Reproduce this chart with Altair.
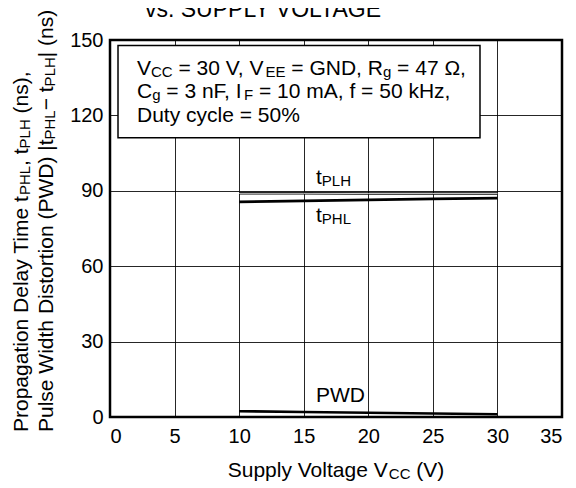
import altair as alt
import pandas as pd

# ---------------- data ----------------
vcc = [10, 15, 20, 25, 30]
t_plh = [89.0, 89.0, 88.9, 88.9, 88.9]
t_phl = [85.6, 86.0, 86.4, 86.8, 87.1]
pwd = [2.3, 2.0, 1.7, 1.4, 1.1]

x_ticks = [0, 5, 10, 15, 20, 25, 30, 35]
y_ticks = [0, 30, 60, 90, 120, 150]

FONT = "Liberation Sans"
W, H = 452, 377
BIG, SUB = 21, 15

# Arial / Liberation Sans advance widths (1/1000 em)
AW = {" ": 278, "(": 333, ")": 333, ",": 278, ".": 278, "=": 584, "%": 889, "|": 260,
      "\u2212": 584, "\u03a9": 768, "0": 556, "1": 556, "2": 556, "3": 556, "4": 556,
      "5": 556, "6": 556, "7": 556, "8": 556, "9": 556,
      "A": 667, "C": 722, "D": 722, "E": 667, "F": 611, "G": 778, "H": 722, "I": 278,
      "L": 556, "N": 722, "O": 778, "P": 667, "R": 722, "S": 667, "T": 611, "U": 722,
      "V": 667, "W": 944, "Y": 667,
      "a": 556, "c": 500, "d": 556, "e": 556, "f": 278, "g": 556, "h": 556, "i": 222,
      "k": 500, "l": 222, "m": 833, "n": 556, "o": 556, "p": 556, "r": 333, "s": 500,
      "t": 278, "u": 556, "v": 500, "y": 500, "z": 500}


def tw(s, size):
    return sum(AW.get(c, 556) for c in s) * size / 1000.0


one = pd.DataFrame({"a": [0]})


def piece(text, size, angle, **kw):
    return alt.Chart(one).mark_text(
        text=text, font=FONT, fontSize=size, align="left",
        baseline="alphabetic", angle=angle, color="black", **kw)


def split_lead(text, size):
    stripped = text.lstrip(" ")
    return stripped, tw(text[: len(text) - len(stripped)], size)


def rich_px(segs, x0, y0, angle=0, big=BIG, sub=SUB, shift=2):
    """Text with subscripts, placed in pixel coordinates."""
    out = []
    pos = 0.0
    for text, is_sub in segs:
        size = sub if is_sub else big
        off = shift if is_sub else 0
        body, lead = split_lead(text, size)
        pos += lead
        if angle == 0:
            x, y = x0 + pos, y0 + off
        else:
            x, y = x0 + off, y0 - pos
        out.append(piece(body, size, angle).encode(x=alt.value(x), y=alt.value(y)))
        pos += tw(body, size)
    return out


def rich_dat(segs, xv, yv, big=BIG, sub=SUB, shift=2):
    """Text with subscripts anchored at a data position."""
    out = []
    pos = 0.0
    for text, is_sub in segs:
        size = sub if is_sub else big
        body, lead = split_lead(text, size)
        pos += lead
        out.append(piece(body, size, 0, dx=pos, dy=(shift if is_sub else 0)).encode(
            x=alt.datum(xv), y=alt.datum(yv)))
        pos += tw(body, size)
    return out


df = pd.DataFrame({
    "vcc": vcc * 3,
    "val": t_plh + t_phl + pwd,
    "series": ["tPLH"] * 5 + ["tPHL"] * 5 + ["PWD"] * 5,
})

xs = alt.Scale(domain=[0, 35], nice=False, zero=False)
ys = alt.Scale(domain=[0, 150], nice=False, zero=False)

lines = alt.Chart(df).mark_line(color="black", strokeWidth=2.6).encode(
    x=alt.X("vcc:Q", scale=xs, axis=alt.Axis(values=x_ticks, title=None, labelPadding=9)),
    y=alt.Y("val:Q", scale=ys, axis=alt.Axis(values=y_ticks, title=None, labelPadding=7,
                                             labelBaseline="middle")),
    detail="series:N",
)
plh_inner = alt.Chart(df[df.series == "tPLH"]).mark_line(color="white", strokeWidth=0.8).encode(
    x="vcc:Q", y="val:Q")

box = alt.Chart(one).mark_rect(fill="white", stroke="black", strokeWidth=1.5).encode(
    x=alt.datum(0.62), x2=alt.datum(28.65), y=alt.datum(147.8), y2=alt.datum(111.1))

layers = [lines, plh_inner, box]
layers += rich_dat([("V", 0), ("CC", 1), (" = 30 V, V", 0), ("EE", 1), (" = GND, R", 0),
                    ("g", 1), (" = 47 \u03a9,", 0)], 2.09, 136.2)
layers += rich_dat([("C", 0), ("g", 1), (" = 3 nF, I", 0), ("F", 1),
                    (" = 10 mA, f = 50 kHz,", 0)], 2.09, 127.0)
layers += rich_dat([("Duty cycle = 50%", 0)], 2.09, 117.5)
layers += rich_dat([("t", 0), ("PLH", 1)], 15.95, 92.7)
layers += rich_dat([("t", 0), ("PHL", 1)], 15.95, 77.5)
layers += rich_dat([("PWD", 0)], 15.95, 6.0)

# x-axis title
xt = [("Supply Voltage V", 0), ("CC", 1), (" (V)", 0)]
xt_w = sum(tw(t, SUB if s else BIG) for t, s in xt)
layers += rich_px(xt, W / 2 - xt_w / 2, 437)

# y-axis title, two lines
layers += rich_px([("Propagation Delay Time t", 0), ("PHL", 1), (", t", 0), ("PLH", 1),
                   (" (ns),", 0)], -82, 392, angle=270)
layers += rich_px([("Pulse Width Distortion (PWD) |t", 0), ("PHL", 1), ("\u2212 t", 0),
                   ("PLH", 1), ("| (ns)", 0)], -57, 392, angle=270)

# chart title (cut off at the top edge)
layers.append(alt.Chart(one).mark_text(
    text="vs. SUPPLY VOLTAGE", font=FONT, fontSize=23, align="center",
    baseline="alphabetic", color="black").encode(x=alt.value(153), y=alt.value(-23)))

chart = alt.layer(*layers).properties(
    width=W, height=H,
    autosize=alt.AutoSizeParams(type="none"),
    padding={"left": 102, "top": 32, "right": 6, "bottom": 70},
).configure_view(stroke="black", strokeWidth=2.5).configure_axis(
    grid=True, gridColor="black", gridWidth=1, gridOpacity=0.85, domain=False, ticks=False,
    labelFont=FONT, labelFontSize=20, labelColor="black",
)

chart.save("out.html", embed_options={"renderer": "svg", "actions": False})
